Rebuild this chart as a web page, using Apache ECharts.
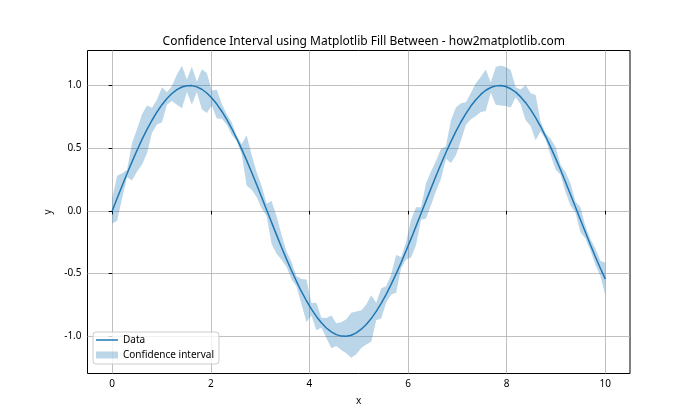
<!DOCTYPE html>
<html>
<head>
<meta charset="utf-8">
<script src="https://cdn.jsdelivr.net/npm/echarts@6/dist/echarts.min.js"></script>
<style>html,body{margin:0;padding:0;background:#fff}#c{width:700px;height:420px}</style>
</head>
<body>
<div id="c"></div>
<script>
// x positions (100 evenly spaced samples from 0 to 10)
const xValues = [0, 0.101, 0.202, 0.303, 0.404, 0.505, 0.606, 0.707, 0.808, 0.909,
  1.010, 1.111, 1.212, 1.313, 1.414, 1.515, 1.616, 1.717, 1.818, 1.919,
  2.020, 2.121, 2.222, 2.323, 2.424, 2.525, 2.626, 2.727, 2.828, 2.929,
  3.030, 3.131, 3.232, 3.333, 3.434, 3.535, 3.636, 3.737, 3.838, 3.939,
  4.040, 4.141, 4.242, 4.343, 4.444, 4.545, 4.646, 4.747, 4.848, 4.949,
  5.051, 5.152, 5.253, 5.354, 5.455, 5.556, 5.657, 5.758, 5.859, 5.960,
  6.061, 6.162, 6.263, 6.364, 6.465, 6.566, 6.667, 6.768, 6.869, 6.970,
  7.071, 7.172, 7.273, 7.374, 7.475, 7.576, 7.677, 7.778, 7.879, 7.980,
  8.081, 8.182, 8.283, 8.384, 8.485, 8.586, 8.687, 8.788, 8.889, 8.990,
  9.091, 9.192, 9.293, 9.394, 9.495, 9.596, 9.697, 9.798, 9.899, 10];

// "Data" line values
const dataValues = [0.000, 0.101, 0.201, 0.298, 0.393, 0.484, 0.570, 0.650, 0.723, 0.789,
  0.847, 0.896, 0.936, 0.967, 0.988, 0.998, 0.999, 0.989, 0.970, 0.940,
  0.901, 0.852, 0.795, 0.730, 0.657, 0.578, 0.493, 0.403, 0.308, 0.211,
  0.111, 0.010, -0.091, -0.191, -0.289, -0.384, -0.475, -0.561, -0.642, -0.716,
  -0.783, -0.841, -0.892, -0.933, -0.964, -0.986, -0.998, -0.999, -0.991, -0.972,
  -0.943, -0.905, -0.858, -0.801, -0.737, -0.665, -0.586, -0.502, -0.412, -0.318,
  -0.221, -0.121, -0.021, 0.080, 0.180, 0.279, 0.374, 0.466, 0.553, 0.634,
  0.709, 0.776, 0.836, 0.887, 0.929, 0.962, 0.984, 0.997, 1.000, 0.992,
  0.974, 0.947, 0.909, 0.863, 0.808, 0.744, 0.673, 0.595, 0.511, 0.421,
  0.328, 0.231, 0.131, 0.031, -0.070, -0.170, -0.269, -0.365, -0.457, -0.544];

// half-width of the confidence band at each sample
const ciHalfWidth = [0.10, 0.18, 0.10, 0.03, 0.15, 0.17, 0.20, 0.19, 0.10, 0.10,
  0.14, 0.05, 0.06, 0.12, 0.17, 0.05, 0.15, 0.04, 0.16, 0.16,
  0.06, 0.115, 0.06, 0.04, 0.05, 0.02, 0.04, 0.20, 0.14, 0.10,
  0.09, 0.05, 0.17, 0.15, 0.10, 0.06, 0.07, 0.04, 0.10, 0.17,
  0.05, 0.11, 0.04, 0.08, 0.13, 0.09, 0.11, 0.135, 0.18, 0.17,
  0.15, 0.16, 0.185, 0.07, 0.12, 0.065, 0.08, 0.15, 0.045, 0.07,
  0.15, 0.15, 0.05, 0.14, 0.135, 0.12, 0.12, 0.05, 0.17, 0.19,
  0.15, 0.09, 0.105, 0.13, 0.14, 0.165, 0.04, 0.15, 0.16, 0.155,
  0.15, 0.04, 0.06, 0.14, 0.13, 0.18, 0.04, 0.025, 0.065, 0.09,
  0.04, 0.08, 0.09, 0.045, 0.10, 0.05, 0.045, 0.065, 0.06, 0.13];

const xTicks = [0, 2, 4, 6, 8, 10];
const yTicks = [-1.0, -0.5, 0.0, 0.5, 1.0];

const FONT = 'Noto Sans';
const lineData = xValues.map((x, i) => [x, dataValues[i]]);
const bandData = xValues.map((x, i) => [x, dataValues[i] - ciHalfWidth[i], dataValues[i] + ciHalfWidth[i]]);

const chart = echarts.init(document.getElementById('c'), null, {renderer: 'canvas'});
chart.setOption({
  animation: false,
  textStyle: {fontFamily: FONT},
  title: {
    text: 'Confidence Interval using Matplotlib Fill Between - how2matplotlib.com',
    left: 358.75, top: 31, textAlign: 'center',
    textStyle: {fontFamily: FONT, fontSize: 12, fontWeight: 'normal', color: '#000'}
  },
  grid: {
    left: 87.5, right: 70, top: 50.5, bottom: 46.5,
    show: true, borderColor: '#000', borderWidth: 1, backgroundColor: 'transparent'
  },
  legend: {
    orient: 'vertical', left: 93, top: 332,
    padding: [3, 5, 4, 3], itemGap: 5, itemWidth: 22, itemHeight: 7,
    symbolKeepAspect: true,
    backgroundColor: 'rgba(255,255,255,0.8)', borderColor: '#cccccc', borderWidth: 1, borderRadius: 3,
    textStyle: {fontFamily: FONT, fontSize: 10, color: '#000'},
    data: [
      {name: 'Data', icon: 'path://M0,0H44V3H0Z', itemStyle: {color: '#1f77b4'}},
      {name: 'Confidence interval', icon: 'rect', itemStyle: {color: 'rgba(31,119,180,0.3)'}}
    ]
  },
  xAxis: {
    type: 'value', min: -0.5, max: 10.5,
    name: 'x', nameLocation: 'middle', nameGap: 23,
    nameTextStyle: {fontFamily: FONT, fontSize: 10, color: '#000'},
    axisLine: {show: false},
    axisTick: {show: true, length: 3.5, lineStyle: {color: '#000', width: 1}, customValues: xTicks},
    axisLabel: {color: '#000', fontSize: 10, fontFamily: FONT, margin: 6, customValues: xTicks,
      formatter: v => String(Math.round(v))},
    splitLine: {show: true, lineStyle: {color: '#b0b0b0', width: 0.8}}
  },
  yAxis: {
    type: 'value', min: -1.296, max: 1.279,
    name: 'y', nameLocation: 'middle', nameGap: 28, nameRotate: 90,
    nameTextStyle: {fontFamily: FONT, fontSize: 10, color: '#000'},
    axisLine: {show: false},
    axisTick: {show: true, length: 3.5, lineStyle: {color: '#000', width: 1}, customValues: yTicks},
    axisLabel: {color: '#000', fontSize: 10, fontFamily: FONT, margin: 6, customValues: yTicks,
      formatter: v => v.toFixed(1)},
    splitLine: {show: true, lineStyle: {color: '#b0b0b0', width: 0.8}}
  },
  series: [
    {
      name: 'Confidence interval', type: 'custom',
      itemStyle: {color: 'rgba(31,119,180,0.3)'},
      encode: {x: 0, y: [1, 2]},
      data: bandData,
      z: 1,
      renderItem: function (params, api) {
        if (params.dataIndex !== 0) return null;
        const pts = [];
        for (let i = 0; i < bandData.length; i++) pts.push(api.coord([bandData[i][0], bandData[i][2]]));
        for (let i = bandData.length - 1; i >= 0; i--) pts.push(api.coord([bandData[i][0], bandData[i][1]]));
        return {type: 'polygon', shape: {points: pts}, style: {fill: 'rgba(31,119,180,0.3)', stroke: null}};
      }
    },
    {
      name: 'Data', type: 'line', data: lineData, symbol: 'none', smooth: false, z: 3,
      lineStyle: {color: '#1f77b4', width: 1.5}, itemStyle: {color: '#1f77b4'}
    }
  ]
});
</script>
</body>
</html>
